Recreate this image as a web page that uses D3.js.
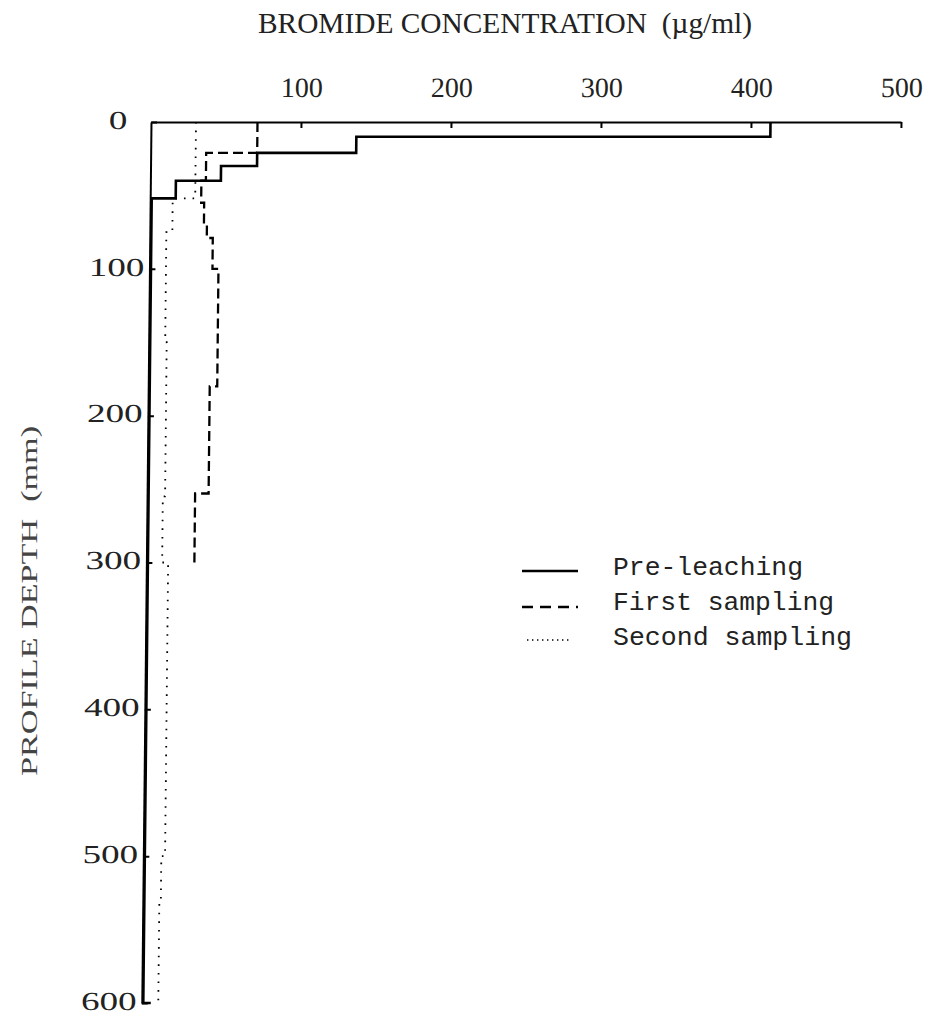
<!DOCTYPE html>
<html>
<head>
<meta charset="utf-8">
<script src="https://cdn.jsdelivr.net/npm/d3@7"></script>
<style>
  body { margin: 0; background: #fff; }
  svg { display: block; }
</style>
</head>
<body>
<svg id="chart" width="928" height="1016"></svg>
<script>
// Tick values
const concTicks = [100, 200, 300, 400, 500];
const depthTicks = [0, 100, 200, 300, 400, 500, 600];

// Layer boundaries (mm) and bromide concentration of each layer (µg/ml)
const preDepth = [0, 10, 21, 30, 40, 52, 600, 600];
const preConc = [413, 137, 71, 47, 17, 1, 6];

const firstDepth = [0, 21, 40, 55, 70, 79, 100, 180, 253, 300];
const firstConc = [71, 37, 34, 36, 38, 42, 46, 41, 32];

const secondDepth = [0, 52, 75, 150, 255, 300, 500, 530, 600];
const secondConc = [30, 15, 11, 12, 10.5, 14.5, 12, 11];

const seriesNames = ["Pre-leaching", "First sampling", "Second sampling"];

const svg = d3.select("#chart");
const serif = "'Liberation Serif', 'DejaVu Serif', serif";
const mono = "'Liberation Mono', 'DejaVu Sans Mono', monospace";

const x = d3.scaleLinear().domain([0, 500]).range([151, 901]);
const y = d3.scaleLinear().domain([0, 600]).range([122, 1003]);

// plot area is slightly sheared, as on the original plotter sheet
const plot = svg.append("g")
  .attr("transform", `translate(0,${y(0)}) skewX(-0.6) translate(0,${-y(0)})`);

// concentration axis along the top
const xAxis = plot.append("g")
  .attr("transform", `translate(0,${y(0)})`)
  .call(d3.axisTop(x).tickValues(concTicks).tickSize(-6).tickSizeOuter(0).tickPadding(25));
xAxis.select(".domain").attr("stroke", "#000").attr("stroke-width", 2);
xAxis.selectAll(".tick line").attr("stroke", "#000").attr("stroke-width", 2);
xAxis.selectAll(".tick text")
  .attr("font-family", serif).attr("font-size", 28).attr("fill", "#222")
  .attr("textLength", 42).attr("lengthAdjust", "spacingAndGlyphs");

// depth axis on the left
const yAxis = plot.append("g")
  .attr("transform", `translate(${x(0)},0)`)
  .call(d3.axisLeft(y).tickValues(depthTicks).tickSize(-6).tickSizeOuter(0));
yAxis.select(".domain").attr("stroke", "#000").attr("stroke-width", 2);
yAxis.selectAll(".tick line").attr("stroke", "#000").attr("stroke-width", 2);
yAxis.selectAll(".tick text")
  .attr("x", -33).attr("dy", "0.24em")
  .attr("text-anchor", "middle")
  .attr("font-family", serif).attr("font-size", 26).attr("fill", "#222")
  .each(function (d) {
    const s = String(d);
    d3.select(this).attr("textLength", s.length * 18.5).attr("lengthAdjust", "spacingAndGlyphs");
  });

// step profiles: each layer is a vertical run at its concentration
function profile(bounds, conc) {
  const pts = [];
  conc.forEach((c, i) => {
    pts.push({ c, d: bounds[i] });
    pts.push({ c, d: bounds[i + 1] });
  });
  return pts;
}

const line = d3.line().x(p => x(p.c)).y(p => y(p.d));

const styles = [
  { width: 2.6, dash: null },
  { width: 2.3, dash: "10,5" },
  { width: 1.8, dash: "1.6,7" }
];

const profiles = [
  profile(preDepth, preConc),
  profile(firstDepth, firstConc),
  profile(secondDepth, secondConc)
];

profiles.forEach((pts, i) => {
  plot.append("path")
    .datum(pts)
    .attr("d", line)
    .attr("fill", "none")
    .attr("stroke", "#000")
    .attr("stroke-width", styles[i].width)
    .attr("stroke-dasharray", styles[i].dash);
});

// titles
svg.append("text")
  .attr("x", 258).attr("y", 33)
  .attr("font-family", serif).attr("font-size", 29).attr("fill", "#222")
  .attr("textLength", 494).attr("lengthAdjust", "spacingAndGlyphs")
  .attr("xml:space", "preserve")
  .text("BROMIDE CONCENTRATION  (\u00b5g/ml)");

svg.append("text")
  .attr("transform", "translate(37,601) rotate(-90)")
  .attr("text-anchor", "middle")
  .attr("font-family", serif).attr("font-size", 23).attr("fill", "#444")
  .attr("textLength", 350).attr("lengthAdjust", "spacingAndGlyphs")
  .attr("xml:space", "preserve")
  .text("PROFILE DEPTH  (mm)");

// legend
const legendStyles = [
  { width: 2.6, dash: null, x0: 522, x1: 578 },
  { width: 2.6, dash: "11,7", x0: 522, x1: 578 },
  { width: 1.4, dash: "1.4,3.6", x0: 527, x1: 571 }
];
const legendY = [571, 607, 640];
const legendTextY = [575, 610, 645];
const legendTextW = [190, 221, 239];

const legend = svg.append("g");
seriesNames.forEach((name, i) => {
  legend.append("line")
    .attr("x1", legendStyles[i].x0).attr("x2", legendStyles[i].x1)
    .attr("y1", legendY[i]).attr("y2", legendY[i])
    .attr("stroke", "#000")
    .attr("stroke-width", legendStyles[i].width)
    .attr("stroke-dasharray", legendStyles[i].dash);
  legend.append("text")
    .attr("x", 613).attr("y", legendTextY[i])
    .attr("font-family", mono).attr("font-size", 26).attr("fill", "#222")
    .attr("textLength", legendTextW[i]).attr("lengthAdjust", "spacingAndGlyphs")
    .text(name);
});
</script>
</body>
</html>
